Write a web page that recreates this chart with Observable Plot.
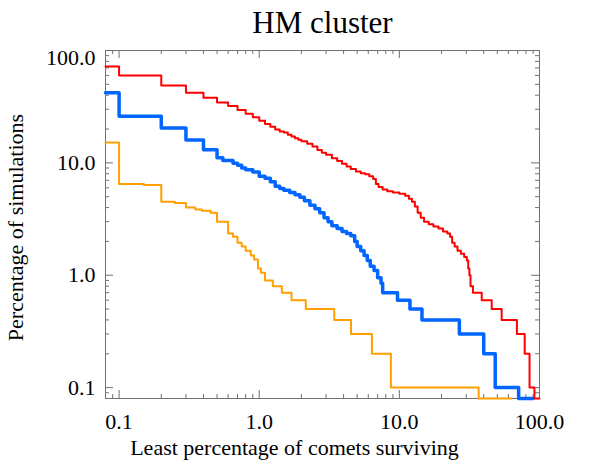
<!DOCTYPE html>
<html><head><meta charset="utf-8">
<script src="https://cdn.jsdelivr.net/npm/d3@7"></script>
<script src="https://cdn.jsdelivr.net/npm/@observablehq/plot@0.6"></script>
<style>html,body{margin:0;padding:0;background:#fff;} #chart{width:590px;height:471px;}</style>
</head><body><div id="chart"></div>
<script>
// ---- data ----
const redX = [0.08,0.1,0.2,0.3,0.4,0.5,0.6,0.7,0.8,0.9,1.0,1.1,1.2,1.3,1.4,1.5,1.6,1.7,1.8,1.9,2.0,2.2,2.4,2.6,2.8,3.0,3.3,3.6,3.9,4.2,4.5,4.9,5.3,5.7,6.1,6.5,6.8,7.1,7.6,8.2,9.0,10.0,11.0,11.7,12.3,12.9,13.5,14.2,15.0,16.2,17.5,19.0,20.5,22.0,23.0,23.8,24.8,26.0,27.5,29.0,30.3,31.0,31.6,32.2,33.5,38.7,45.6,53.7,69.0,78.4,84.9,92.0,100];
const redY = [72,60,48.7,42,37.9,34.5,32,29.5,27.3,25.5,23.7,22.2,21.0,19.8,19.0,18.6,17.8,17.2,16.6,16.1,15.6,14.8,14.0,13.0,12.3,11.8,11.0,10.4,9.8,9.3,8.8,8.4,8.1,7.9,7.6,7.2,6.5,6.1,5.8,5.6,5.45,5.3,5.1,4.8,4.5,4.1,3.6,3.25,3.0,2.85,2.72,2.6,2.45,2.35,2.2,1.95,1.8,1.65,1.55,1.45,1.35,1.15,1.0,0.8,0.7,0.6,0.5,0.4,0.3,0.2,0.1,0.08,0.08];

const blueX = [0.08,0.1,0.2,0.3,0.4,0.5,0.55,0.65,0.7,0.75,0.8,0.9,1.0,1.1,1.2,1.3,1.4,1.5,1.65,1.8,1.95,2.1,2.3,2.5,2.7,2.9,3.1,3.3,3.6,3.9,4.2,4.5,4.8,5.0,5.3,5.6,5.9,6.2,6.6,7.0,7.4,7.6,9.7,11.9,14.5,26.8,40,48.3,71,90];
const blueY = [42,26,20.4,16.0,13.1,11.1,10.5,9.9,9.5,9.0,8.7,8.3,7.6,7.3,6.8,6.2,5.9,5.7,5.45,5.2,4.95,4.6,4.2,3.9,3.6,3.25,3.0,2.75,2.6,2.45,2.35,2.25,2.0,1.8,1.65,1.5,1.35,1.2,1.1,0.95,0.85,0.7,0.6,0.5,0.4,0.3,0.2,0.1,0.08,0.08];

const orangeX = [0.08,0.1,0.15,0.2,0.25,0.3,0.35,0.39,0.45,0.5,0.6,0.65,0.7,0.75,0.8,0.87,0.92,0.98,1.03,1.1,1.25,1.45,1.7,2.15,3.43,4.52,6.37,8.7,36.8,63];
const orangeY = [15.2,6.5,6.35,4.5,4.4,4.0,3.85,3.74,3.6,3.0,2.35,2.2,1.95,1.8,1.65,1.5,1.38,1.15,1.05,0.9,0.8,0.7,0.6,0.5,0.4,0.3,0.2,0.1,0.08,0.08];

const majorTicks = [0.1, 1, 10, 100];
const minorTicks = [0.08,0.09,0.2,0.3,0.4,0.5,0.6,0.7,0.8,0.9,2,3,4,5,6,7,8,9,20,30,40,50,60,70,80,90];
const titleText = "HM cluster";
const xLabel = "Least percentage of comets surviving";
const yLabel = "Percentage of simulations";

// ---- layout / style ----
const W = 590, H = 471, mL = 105, mR = 51, mT = 50, mB = 73;
const innerW = W - mL - mR, innerH = H - mT - mB;
const axisColor = "#707070";
const majorLen = 8, minorLen = 4;
const fmt = d3.format(".1f");
const series = (xs, ys) => xs.map((x, i) => ({x, y: ys[i]}));

const ticksFor = (vals, len) => [
  Plot.ruleX(vals, {x: d => d, insetTop: innerH - len, stroke: axisColor}),
  Plot.ruleX(vals, {x: d => d, insetBottom: innerH - len, stroke: axisColor}),
  Plot.ruleY(vals, {y: d => d, insetRight: innerW - len, stroke: axisColor}),
  Plot.ruleY(vals, {y: d => d, insetLeft: innerW - len, stroke: axisColor})
];

const chart = Plot.plot({
  width: W, height: H,
  marginLeft: mL, marginRight: mR, marginTop: mT, marginBottom: mB,
  style: {fontFamily: "'Liberation Serif', 'Times New Roman', serif", fontSize: "22px", color: "#000", background: "#fff"},
  x: {type: "log", domain: [0.08, 100]},
  y: {type: "log", domain: [0.08, 100]},
  marks: [
    ...ticksFor(minorTicks, minorLen),
    ...ticksFor(majorTicks, majorLen),
    Plot.frame({stroke: axisColor}),
    Plot.axisX(majorTicks, {tickSize: 0, tickPadding: 15, tickFormat: fmt, label: null, fontSize: 22}),
    Plot.axisY(majorTicks.filter(d => d < 100), {tickSize: 0, tickPadding: 10, tickFormat: fmt, label: null, fontSize: 22}),
    Plot.axisY(majorTicks.filter(d => d >= 100), {tickSize: 0, tickPadding: 10, tickFormat: fmt, label: null, fontSize: 22, dy: 7}),
    Plot.line(series(orangeX, orangeY), {x: "x", y: "y", curve: "step-after", stroke: "#ffa000", strokeWidth: 2}),
    Plot.line(series(blueX, blueY), {x: "x", y: "y", curve: "step-after", stroke: "#0066ff", strokeWidth: 3.5}),
    Plot.line(series(redX, redY), {x: "x", y: "y", curve: "step-after", stroke: "#ff0000", strokeWidth: 2}),
    Plot.text([titleText], {text: d => d, frameAnchor: "top", dy: -27, fontSize: 31, lineAnchor: "middle"}),
    Plot.text([xLabel], {text: d => d, frameAnchor: "bottom", dy: 49, dx: -28, fontSize: 22, lineAnchor: "middle"}),
    Plot.text([yLabel], {text: d => d, frameAnchor: "left", textAnchor: "middle", dx: -90, dy: 3, rotate: -90, fontSize: 22, lineAnchor: "middle"})
  ]
});
document.getElementById("chart").appendChild(chart);
</script>
</body></html>
